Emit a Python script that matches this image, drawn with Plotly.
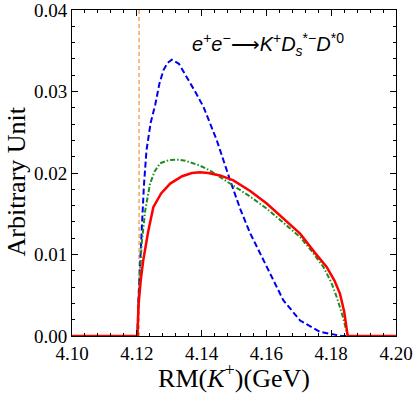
import plotly.graph_objects as go

# Data
blue_x = [4.10, 4.1202, 4.1205, 4.1209, 4.1215, 4.1222, 4.1230, 4.1243, 4.1257, 4.1270, 4.1282, 4.1295,
          4.1308, 4.1330, 4.1354, 4.1380, 4.1406, 4.1447, 4.1488, 4.1520, 4.1550, 4.1601, 4.1652,
          4.1704, 4.1766, 4.1807, 4.1830, 4.20]
blue_y = [0, 0, 0.0045, 0.0085, 0.0128, 0.0185, 0.0228, 0.0262, 0.0284, 0.0310, 0.0326, 0.0335,
          0.0339, 0.0334, 0.0318, 0.0300, 0.0281, 0.0240, 0.0191, 0.0155, 0.0126, 0.0085, 0.0044,
          0.0019, 0.0005, 0.0002, 0, 0]

green_x = [4.10, 4.1202, 4.1206, 4.1215, 4.1226, 4.1241, 4.1255, 4.1272, 4.1300, 4.1328, 4.1350,
           4.1375, 4.1395, 4.1426, 4.1460, 4.1498, 4.1550, 4.1601, 4.1650, 4.1704, 4.1740, 4.1776,
           4.1800, 4.1817, 4.1835, 4.1851, 4.20]
green_y = [0, 0, 0.0050, 0.0113, 0.0154, 0.0187, 0.0202, 0.0212, 0.0216, 0.02164, 0.0215,
           0.0212, 0.0209, 0.0203, 0.0194, 0.0185, 0.0171, 0.01563, 0.0140, 0.01215, 0.0104, 0.00847,
           0.0066, 0.00479, 0.0025, 0, 0]

red_x = [4.10, 4.1202, 4.1205, 4.1212, 4.1220, 4.1235, 4.1251, 4.1275, 4.1303, 4.1340, 4.1370,
         4.1395, 4.1420, 4.1457, 4.1498, 4.1550, 4.1601, 4.1650, 4.1704, 4.1750, 4.1786, 4.1810,
         4.1827, 4.1840, 4.1848, 4.1851, 4.20]
red_y = [0, 0, 0.0036, 0.0068, 0.0093, 0.0128, 0.0158, 0.0175, 0.0187, 0.0196, 0.0200,
         0.0201, 0.0200, 0.0197, 0.0191, 0.0178, 0.01625, 0.0145, 0.01256, 0.0102, 0.00847, 0.0068,
         0.0052, 0.0030, 0.0010, 0, 0]

threshold_x = [4.1207, 4.1207]
threshold_y = [0, 0.04]

x_ticks = [4.10, 4.12, 4.14, 4.16, 4.18, 4.20]
y_ticks = [0.00, 0.01, 0.02, 0.03, 0.04]

serif = "Liberation Serif"
sans = "Liberation Sans"

fig = go.Figure()
fig.add_trace(go.Scatter(x=threshold_x, y=threshold_y, mode="lines",
                         line=dict(color="#F5A050", width=1.4, dash="4px,3px")))
fig.add_trace(go.Scatter(x=blue_x, y=blue_y, mode="lines",
                         line=dict(color="#0000EE", width=2, dash="6px,3px")))
fig.add_trace(go.Scatter(x=green_x, y=green_y, mode="lines",
                         line=dict(color="#1E8C1E", width=2, dash="5px,2px,1.5px,2px")))
fig.add_trace(go.Scatter(x=red_x, y=red_y, mode="lines",
                         line=dict(color="#FF0000", width=2.5)))

axis_common = dict(showgrid=False, zeroline=False, showline=True, linecolor="black", linewidth=1,
                   mirror="ticks", ticks="inside", ticklen=6, tickcolor="black",
                   ticklabeloverflow="allow", automargin=False,
                   tickfont=dict(family=serif, size=19, color="black"))

fig.update_xaxes(range=[4.10, 4.20], tickvals=x_ticks, ticktext=[f"{v:.2f}" for v in x_ticks],
                 minor=dict(ticks="inside", ticklen=3, dtick=0.004, tick0=4.10, tickcolor="black"),
                 title=dict(text="RM(<i>K</i><sup>+</sup>)(GeV)", font=dict(family=serif, size=26, color="black"),
                            standoff=0),
                 **axis_common)
fig.update_yaxes(range=[0, 0.04], tickvals=y_ticks, ticktext=[f"{v:.2f}" for v in y_ticks],
                 minor=dict(ticks="inside", ticklen=3, dtick=0.002, tick0=0, tickcolor="black"),
                 **axis_common)

# y-axis title placed as rotated text for exact positioning
fig.add_annotation(x=-0.172, y=0.475, xref="paper", yref="paper", xanchor="center", yanchor="middle",
                   showarrow=False, textangle=-90, text="Arbitrary Unit",
                   font=dict(family=serif, size=26, color="black"))

fig.add_annotation(x=0.365, y=0.895, xref="paper", yref="paper", xanchor="left", yanchor="middle",
                   showarrow=False,
                   text="<i>e</i><sup>+</sup><i>e</i><sup>−</sup>⟶<i>K</i><sup>+</sup><i>D</i><sub><i>s</i></sub><sup>*−</sup><i>D</i><sup>*0</sup>",
                   font=dict(family=sans, size=20, color="black"))

fig.update_layout(width=415, height=393, showlegend=False,
                  margin=dict(l=72, r=19, t=10, b=57, autoexpand=False),
                  paper_bgcolor="white", plot_bgcolor="white")

fig.write_html("out.html", config={"displayModeBar": False},
               post_script="document.body.style.margin='0';document.body.style.overflow='hidden';")
